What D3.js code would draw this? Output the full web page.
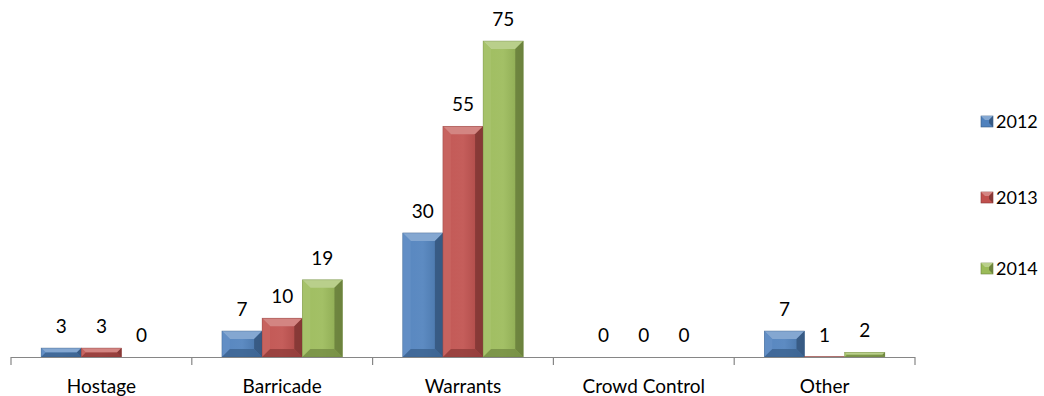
<!DOCTYPE html>
<html><head><meta charset="utf-8">
<script src="https://cdn.jsdelivr.net/npm/d3@7"></script>
<style>body{margin:0;background:#fff}svg{display:block}</style>
</head><body>
<script>
const categories = ["Hostage", "Barricade", "Warrants", "Crowd Control", "Other"];
const seriesNames = ["2012", "2013", "2014"];
const values2012 = [3, 7, 30, 0, 7];
const values2013 = [3, 10, 55, 0, 1];
const values2014 = [0, 19, 75, 0, 2];
const seriesValues = [values2012, values2013, values2014];
const colors = ["#4f81bd", "#c0504d", "#9bbb59"];

const W = 1044, H = 396;
const svg = d3.select("body").append("svg").attr("width", W).attr("height", H);
const font = "Lato, 'Open Sans', sans-serif";
const defs = svg.append("defs");

const x0 = d3.scaleBand().domain(categories).range([11, 915]).paddingInner(0).paddingOuter(0);
const x1 = d3.scaleBand().domain(seriesNames).range([0, x0.bandwidth()]).paddingOuter(0.75).paddingInner(0);
const y = d3.scaleLinear().domain([0.9, 75]).range([357, 41]).clamp(true);

function shade(c, k) { return k > 0 ? d3.interpolateRgb(c, "#fff")(k) : d3.interpolateRgb(c, "#000")(-k); }

// gradients
colors.forEach((c, i) => {
  const g = defs.append("linearGradient").attr("id", "g" + i).attr("x1", 0).attr("x2", 1).attr("y1", 0).attr("y2", 0);
  g.append("stop").attr("offset", 0).attr("stop-color", shade(c, 0.05));
  g.append("stop").attr("offset", 0.5).attr("stop-color", shade(c, 0.08));
  g.append("stop").attr("offset", 1).attr("stop-color", shade(c, -0.12));
});

const data = [];
categories.forEach((cat, ci) => seriesNames.forEach((s, si) => data.push({cat, s, si, v: seriesValues[si][ci]})));

const bars = svg.append("g");
data.forEach(d => {
  const c = colors[d.si];
  const bx = x0(d.cat) + x1(d.s), bw = x1.bandwidth();
  const top = y(d.v), bot = y(0), h = bot - top;
  const g = bars.append("g");
  if (h > 0.2) {
    g.append("rect").attr("x", bx).attr("y", top).attr("width", bw).attr("height", h).attr("fill", `url(#g${d.si})`);
    const b = Math.min(8, h / 2, bw / 2);
    if (h > 2) {
      g.append("polygon").attr("points", [[bx, top], [bx + bw, top], [bx + bw - b, top + b], [bx + b, top + b]].join(" "))
        .attr("fill", shade(c, 0.3));
      g.append("polygon").attr("points", [[bx, top], [bx + b, top + b], [bx + b, bot - b], [bx, bot]].join(" "))
        .attr("fill", shade(c, 0.12)).attr("opacity", 0.8);
      g.append("polygon").attr("points", [[bx + bw, top], [bx + bw - b, top + b], [bx + bw - b, bot - b], [bx + bw, bot]].join(" "))
        .attr("fill", shade(c, -0.35)).attr("opacity", 0.8);
      g.append("polygon").attr("points", [[bx, bot], [bx + b, bot - b], [bx + bw - b, bot - b], [bx + bw, bot]].join(" "))
        .attr("fill", shade(c, -0.25)).attr("opacity", 0.8);
    }
    g.append("rect").attr("x", bx).attr("y", top).attr("width", bw).attr("height", h)
      .attr("fill", "none").attr("stroke", shade(c, -0.3)).attr("stroke-width", 0.6).attr("stroke-opacity", 0.6);
  }
  svg.append("text").attr("x", bx + bw / 2).attr("y", top - 15).attr("text-anchor", "middle")
    .attr("font-family", font).attr("font-size", 19).attr("fill", "#000").text(d.v);
});

// axis
const axisG = svg.append("g").attr("transform", "translate(0,357)");
axisG.append("line").attr("x1", 11).attr("x2", 915).attr("y1", 0.5).attr("y2", 0.5).attr("stroke", "#868686").attr("stroke-width", 1.2);
const tickPos = categories.map(c => x0(c)).concat([x0.range()[1]]);
axisG.selectAll("line.t").data(tickPos).enter().append("line").attr("class", "t")
  .attr("x1", d => d).attr("x2", d => d).attr("y1", 0).attr("y2", 8).attr("stroke", "#868686").attr("stroke-width", 1.2);
axisG.selectAll("text").data(categories).enter().append("text")
  .attr("x", d => x0(d) + x0.bandwidth() / 2).attr("y", 36).attr("text-anchor", "middle")
  .attr("font-family", font).attr("font-size", 19).attr("fill", "#000").text(d => d);

// legend
const legY = [121, 197, 268];
seriesNames.forEach((s, i) => {
  const c = colors[i];
  const lg = svg.append("g").attr("transform", `translate(981,${legY[i]})`);
  lg.append("rect").attr("x", 0).attr("y", -5).attr("width", 12).attr("height", 11).attr("fill", c).attr("stroke", shade(c, -0.3)).attr("stroke-width", 0.6);
  lg.append("polygon").attr("points", "0,-5 12,-5 8,-1 4,-1").attr("fill", shade(c, 0.3));
  lg.append("polygon").attr("points", "12,-5 12,6 8,2 8,-1").attr("fill", shade(c, -0.3));
  lg.append("text").attr("x", 15).attr("y", 7).attr("font-family", font).attr("font-size", 18).attr("fill", "#000").text(s);
});
</script>
</body></html>
